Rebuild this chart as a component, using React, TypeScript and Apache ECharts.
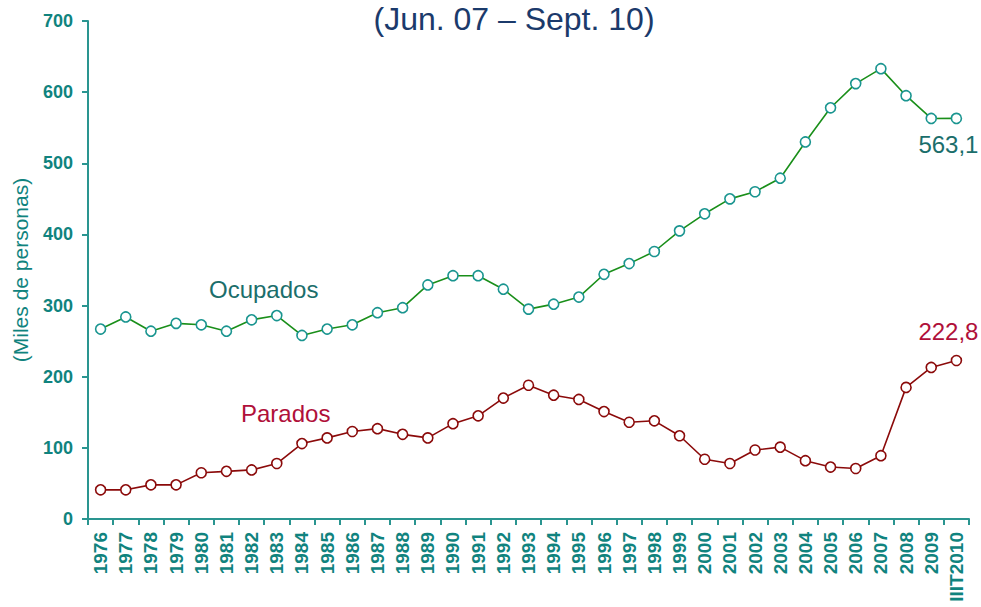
import React, { useEffect, useRef } from "react";
import * as echarts from "echarts";

const years = [
  "1976", "1977", "1978", "1979", "1980", "1981", "1982", "1983", "1984", "1985",
  "1986", "1987", "1988", "1989", "1990", "1991", "1992", "1993", "1994", "1995",
  "1996", "1997", "1998", "1999", "2000", "2001", "2002", "2003", "2004", "2005",
  "2006", "2007", "2008", "2009", "IIIT2010",
];

const ocupados = [
  267, 284, 264, 275, 273, 264, 280, 286, 258, 267,
  273, 290, 297, 329, 342, 342, 323, 295, 302, 312,
  344, 359, 376, 405, 429, 450, 460, 479, 530, 578,
  612, 633, 595, 563, 563.1,
];

const parados = [
  41, 41, 48, 48, 65, 67, 69, 78, 106, 114,
  123, 127, 119, 114, 134, 145, 170, 188, 174, 168,
  151, 136, 138, 117, 84, 78, 97, 101, 82, 73,
  71, 89, 185, 213, 222.8,
];

const yTicks = { min: 0, max: 700, interval: 100 };

const TEAL = "#10837E";
const AXIS = "#2A9590";
const FONT = "'Liberation Sans', Arial, Helvetica, sans-serif";

export default function App() {
  const ref = useRef<HTMLDivElement>(null);

  useEffect(() => {
    if (!ref.current) return;
    const chart = echarts.init(ref.current, undefined, { renderer: "svg" });
    const last = years.length - 1;

    const ocData = ocupados.map((v, i) =>
      i === last
        ? {
            value: v,
            label: {
              show: true,
              position: "bottom",
              distance: 8,
              offset: [-8, 0],
              formatter: () => String(v).replace(".", ","),
              color: "#1B6E6B",
              fontSize: 24,
              fontFamily: FONT,
            },
          }
        : v
    );
    const paData = parados.map((v, i) =>
      i === last
        ? {
            value: v,
            label: {
              show: true,
              position: "top",
              distance: 11,
              offset: [-8, 0],
              formatter: () => String(v).replace(".", ","),
              color: "#B0103A",
              fontSize: 24,
              fontFamily: FONT,
            },
          }
        : v
    );

    chart.setOption({
      animation: false,
      textStyle: { fontFamily: FONT },
      grid: {
        left: 88,
        right: 12,
        top: 21,
        bottom: 88,
        containLabel: false,
        outerBoundsMode: "none",
      },
      title: {
        text: "(Jun. 07 – Sept. 10)",
        left: 509,
        textAlign: "center",
        top: -2,
        textStyle: {
          color: "#1B3A6B",
          fontSize: 32,
          fontWeight: "normal",
          fontFamily: FONT,
        },
      },
      graphic: [
        {
          type: "text",
          left: 209,
          top: 277,
          style: {
            text: "Ocupados",
            fill: "#1B6E6B",
            fontSize: 24,
            fontFamily: FONT,
          },
        },
        {
          type: "text",
          left: 241,
          top: 401,
          style: {
            text: "Parados",
            fill: "#B0103A",
            fontSize: 24,
            fontFamily: FONT,
          },
        },
      ],
      xAxis: {
        type: "category",
        data: years,
        boundaryGap: true,
        axisLine: { lineStyle: { color: AXIS, width: 2 } },
        axisTick: { show: true, length: 6, lineStyle: { color: AXIS, width: 2 } },
        axisLabel: {
          rotate: 90,
          interval: 0,
          margin: 13,
          color: TEAL,
          fontSize: 19,
          fontWeight: "bold",
          fontFamily: FONT,
        },
        splitLine: { show: false },
      },
      yAxis: {
        type: "value",
        min: yTicks.min,
        max: yTicks.max,
        interval: yTicks.interval,
        name: "(Miles de personas)",
        nameLocation: "middle",
        nameGap: 57,
        nameRotate: 90,
        nameTextStyle: { color: TEAL, fontSize: 21, fontFamily: FONT },
        axisLine: { show: true, lineStyle: { color: AXIS, width: 2 } },
        axisTick: { show: true, length: 6, lineStyle: { color: AXIS, width: 2 } },
        axisLabel: {
          margin: 15,
          color: TEAL,
          fontSize: 18,
          fontWeight: "bold",
          fontFamily: FONT,
        },
        splitLine: { show: false },
      },
      series: [
        {
          name: "Ocupados",
          type: "line",
          data: ocData,
          symbol: "circle",
          symbolSize: 10,
          lineStyle: { color: "#1A8F1A", width: 1.6 },
          itemStyle: { color: "#ffffff", borderColor: "#1A9590", borderWidth: 1.6 },
          z: 3,
        },
        {
          name: "Parados",
          type: "line",
          data: paData,
          symbol: "circle",
          symbolSize: 10,
          lineStyle: { color: "#8B0A0A", width: 1.6 },
          itemStyle: { color: "#ffffff", borderColor: "#8B0A0A", borderWidth: 1.6 },
          z: 3,
        },
      ],
    });

    return () => chart.dispose();
  }, []);

  return (
    <div
      ref={ref}
      style={{ position: "absolute", left: 0, top: 0, width: 981, height: 607 }}
    />
  );
}
